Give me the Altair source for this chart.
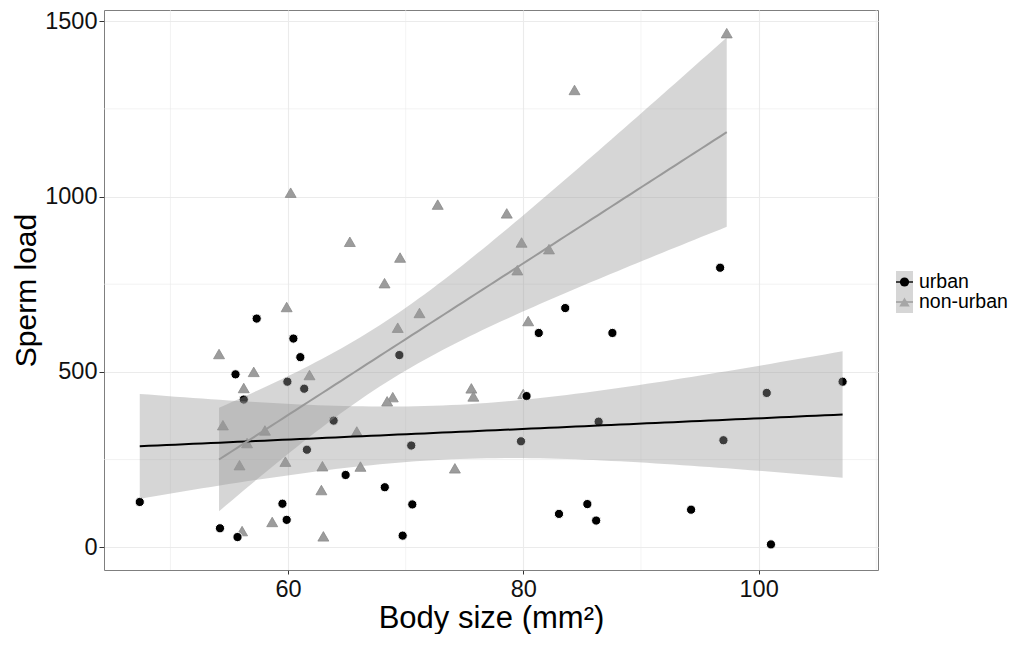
import numpy as np
import pandas as pd
import altair as alt

groups = ["urban", "non-urban"]

urban_x = [57.33, 60.45, 61.04, 55.53, 59.94, 61.37, 56.23, 63.87, 61.60, 64.89,
           47.39, 59.52, 59.88, 54.21, 55.70, 83.56, 81.31, 69.46, 80.27, 70.47,
           79.80, 68.22, 70.56, 69.74, 83.03, 85.44, 86.19, 87.57, 107.14, 100.69,
           86.40, 97.01, 94.26, 101.05, 96.73]
urban_y = [652, 595, 542, 493, 472, 452, 421, 361, 278, 206,
           129, 124, 78, 54, 29, 682, 611, 548, 431, 290,
           302, 171, 122, 33, 95, 123, 76, 611, 472, 440,
           358, 305, 107, 8, 797]

nonurban_x = [59.88, 54.13, 57.08, 61.82, 56.23, 54.46, 58.03, 56.51, 55.87, 59.77,
              62.92, 65.84, 66.15, 62.83, 58.65, 56.09, 63.00, 68.20, 71.17, 69.32,
              75.58, 75.75, 68.90, 68.42, 79.99, 80.41, 74.18, 60.22, 72.72, 78.59,
              65.25, 79.85, 82.18, 69.52, 79.49, 97.29, 84.35]
nonurban_y = [685, 551, 500, 491, 454, 348, 333, 297, 234, 244,
              231, 330, 230, 163, 72, 46, 31, 753, 668, 626,
              453, 430, 428, 416, 437, 645, 225, 1011, 977, 952,
              871, 869, 850, 826, 790, 1466, 1304]

x_major = [60, 80, 100]
x_minor = [50, 70, 90, 110]
y_major = [0, 500, 1000, 1500]
y_minor = [250, 750, 1250]

FONT = "Liberation Sans"
T975 = {33: 2.0345, 35: 2.0301}


def smooth(xs, ys, name, n=80):
    x = np.asarray(xs, float)
    y = np.asarray(ys, float)
    b, a = np.polyfit(x, y, 1)
    resid = y - (a + b * x)
    df = len(x) - 2
    s = np.sqrt((resid ** 2).sum() / df)
    sxx = ((x - x.mean()) ** 2).sum()
    g = np.linspace(x.min(), x.max(), n)
    fit = a + b * g
    se = s * np.sqrt(1.0 / len(x) + (g - x.mean()) ** 2 / sxx)
    t = T975.get(df, 2.03)
    return pd.DataFrame({"x": g, "fit": fit, "lo": fit - t * se,
                         "hi": fit + t * se, "group": name})


pts_u = pd.DataFrame({"x": urban_x, "y": urban_y, "group": "urban"})
pts_n = pd.DataFrame({"x": nonurban_x, "y": nonurban_y, "group": "non-urban"})
bands = pd.concat([smooth(urban_x, urban_y, "urban"),
                   smooth(nonurban_x, nonurban_y, "non-urban")])

xs = alt.Scale(domain=[44.35, 110.15], nice=False, zero=False)
ys = alt.Scale(domain=[-65, 1532], nice=False, zero=False)
cs = alt.Scale(domain=groups, range=["#000000", "#999999"])

x_axis = alt.Axis(values=x_major, title="Body size (mm²)", titleFontSize=31,
                  titleFontWeight="normal", labelFontSize=23.5, labelColor="#111111",
                  titleColor="#000000", tickSize=4, tickColor="#333333",
                  domain=False, grid=True, gridColor="#ebebeb", gridWidth=1.1,
                  labelPadding=3, titlePadding=3, labelFont=FONT, titleFont=FONT)
y_axis = alt.Axis(values=y_major, format="d", title="Sperm load", titleFontSize=30,
                  titleFontWeight="normal", labelFontSize=23.5, labelColor="#111111",
                  titleColor="#000000", tickSize=5, tickColor="#333333",
                  domain=False, grid=True, gridColor="#ebebeb", gridWidth=1.1,
                  labelPadding=2, titlePadding=3, labelFont=FONT, titleFont=FONT)

gx = alt.Chart(pd.DataFrame({"v": x_minor})).mark_rule(
    color="#ebebeb", strokeWidth=0.6).encode(x=alt.X("v:Q", scale=xs))
gy = alt.Chart(pd.DataFrame({"v": y_minor})).mark_rule(
    color="#ebebeb", strokeWidth=0.6).encode(y=alt.Y("v:Q", scale=ys))

tri = alt.Chart(pts_n).mark_point(
    shape="triangle-up", filled=True, size=120, fill="#9c9c9c",
    stroke="#8a8a8a", strokeWidth=0.8, opacity=1).encode(
    x=alt.X("x:Q", scale=xs, axis=x_axis), y=alt.Y("y:Q", scale=ys, axis=y_axis))

circ = alt.Chart(pts_u).mark_circle(
    size=85, color="#000000", stroke="#ffffff", strokeWidth=1, opacity=1).encode(
    x=alt.X("x:Q", scale=xs), y=alt.Y("y:Q", scale=ys))

ribbon = alt.Chart(bands).mark_area(color="#999999", opacity=0.4).encode(
    x=alt.X("x:Q", scale=xs), y=alt.Y("lo:Q", scale=ys), y2="hi:Q",
    detail="group:N")

lines = alt.Chart(bands).mark_line(strokeWidth=2).encode(
    x=alt.X("x:Q", scale=xs), y=alt.Y("fit:Q", scale=ys),
    color=alt.Color("group:N", scale=cs, legend=None))

main = alt.layer(gx, gy, tri, circ, ribbon, lines).properties(
    width=774, height=560, view=alt.ViewBackground(stroke="#7f7f7f", strokeWidth=1))

# legend panel built from the group list
leg_df = pd.DataFrame({"group": groups, "row": [0, 1]})
ly = alt.Y("row:Q", scale=alt.Scale(domain=[0, 1], range=[272, 292]), axis=None)
key_box = alt.Chart(leg_df.iloc[:1]).mark_rect(
    color="#999999", opacity=0.4).encode(
    x=alt.value(0), x2=alt.value(17), y=alt.value(261), y2=alt.value(303))
key_line = alt.Chart(leg_df).mark_tick(thickness=2, size=17, orient="horizontal").encode(
    x=alt.value(8.5), y=ly, color=alt.Color("group:N", scale=cs, legend=None))
key_u = alt.Chart(leg_df.iloc[:1]).mark_circle(
    size=85, color="#000000", opacity=1).encode(x=alt.value(8.5), y=ly)
key_n = alt.Chart(leg_df.iloc[1:]).mark_point(
    shape="triangle-up", filled=True, size=110, fill="#a6a6a6", opacity=1).encode(
    x=alt.value(8.5), y=ly)
key_txt = alt.Chart(leg_df).mark_text(
    align="left", baseline="middle", fontSize=19.5, font=FONT, color="#000000").encode(
    x=alt.value(23), y=ly, text="group:N")

legend = alt.layer(key_box, key_line, key_u, key_n, key_txt).properties(
    width=112, height=560, view=alt.ViewBackground(stroke="transparent"))

chart = alt.hconcat(main, legend, spacing=16).properties(
    padding={"left": 3, "top": 0, "right": 0, "bottom": 0}
).configure(font=FONT).configure_view(stroke=None)

chart.save("out.html", embed_options={"renderer": "svg", "actions": False})
